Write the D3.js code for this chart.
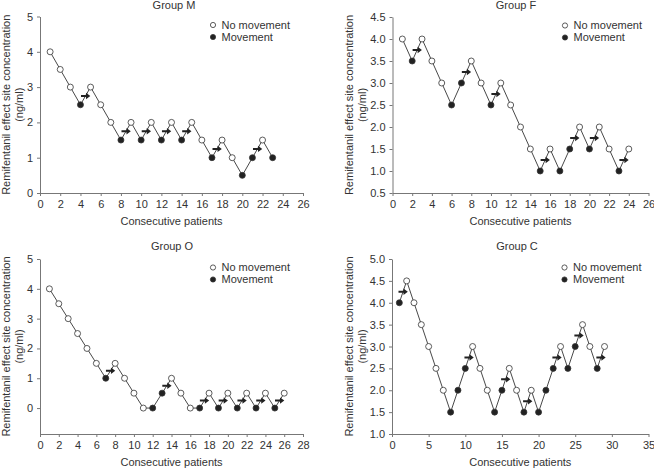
<!DOCTYPE html>
<html>
<head>
<meta charset="utf-8">
<script src="https://cdn.jsdelivr.net/npm/d3@7"></script>
<style>
  html, body { margin: 0; padding: 0; background: #fff; }
  svg { display: block; font-family: 'Liberation Sans', Arial, sans-serif; }
  .axis text { fill: #333; font-size: 11px; }
  .axis line, .axis path { stroke: #777; }
</style>
</head>
<body>
<div id="chart"></div>
<script>
// concentration (ng/ml) per consecutive patient, and whether the patient moved (1) or not (0)
const concM = [4, 3.5, 3, 2.5, 3, 2.5, 2, 1.5, 2, 1.5, 2, 1.5, 2, 1.5, 2, 1.5, 1, 1.5, 1, 0.5, 1, 1.5, 1];
const moveM = [0, 0, 0, 1, 0, 0, 0, 1, 0, 1, 0, 1, 0, 1, 0, 0, 1, 0, 0, 1, 1, 0, 1];

const concF = [4, 3.5, 4, 3.5, 3, 2.5, 3, 3.5, 3, 2.5, 3, 2.5, 2, 1.5, 1, 1.5, 1, 1.5, 2, 1.5, 2, 1.5, 1, 1.5];
const moveF = [0, 1, 0, 0, 0, 1, 1, 0, 0, 1, 0, 0, 0, 0, 1, 0, 1, 1, 0, 1, 0, 0, 1, 0];

const concO = [4, 3.5, 3, 2.5, 2, 1.5, 1, 1.5, 1, 0.5, 0, 0, 0.5, 1, 0.5, 0, 0, 0.5, 0, 0.5, 0, 0.5, 0, 0.5, 0, 0.5];
const moveO = [0, 0, 0, 0, 0, 0, 1, 0, 0, 0, 0, 1, 1, 0, 0, 0, 1, 0, 1, 0, 1, 0, 1, 0, 1, 0];

const concC = [4, 4.5, 4, 3.5, 3, 2.5, 2, 1.5, 2, 2.5, 3, 2.5, 2, 1.5, 2, 2.5, 2, 1.5, 2, 1.5, 2, 2.5, 3, 2.5, 3, 3.5, 3, 2.5, 3];
const moveC = [1, 0, 0, 0, 0, 0, 0, 1, 1, 1, 0, 0, 0, 1, 1, 0, 0, 1, 0, 1, 1, 1, 0, 1, 1, 0, 0, 1, 0];

const ticksM = { x: d3.range(0, 27, 2), y: [0, 1, 2, 3, 4, 5] };
const ticksF = { x: d3.range(0, 27, 2), y: d3.range(0.5, 4.51, 0.5) };
const ticksO = { x: d3.range(0, 29, 2), y: [0, 1, 2, 3, 4, 5] };
const ticksC = { x: d3.range(0, 36, 5), y: d3.range(1, 5.01, 0.5) };

const width = 654;
const height = 469;

const svg = d3
  .select('#chart')
  .append('svg')
  .attr('width', width)
  .attr('height', height);

const panels = [
  { title: 'Group M', conc: concM, move: moveM, ticks: ticksM, xMax: 26, yDom: [0, 5], fmt: d3.format('d'),
    left: 40, right: 303, top: 16.5, bottom: 193, titleX: 174, titleY: 9, ylab: [6, 19] },
  { title: 'Group F', conc: concF, move: moveF, ticks: ticksF, xMax: 26, yDom: [0.5, 4.5], fmt: d3.format('.1f'),
    left: 392.5, right: 648.5, top: 17, bottom: 193, titleX: 516, titleY: 9, ylab: [349, 362] },
  { title: 'Group O', conc: concO, move: moveO, ticks: ticksO, xMax: 28, yDom: [-0.87, 5], fmt: d3.format('d'),
    left: 40, right: 303, top: 259, bottom: 434, titleX: 172, titleY: 250, ylab: [6, 19] },
  { title: 'Group C', conc: concC, move: moveC, ticks: ticksC, xMax: 35, yDom: [1, 5], fmt: d3.format('.1f'),
    left: 392, right: 648.5, top: 259, bottom: 434, titleX: 517, titleY: 250, ylab: [349, 362] },
];

panels.forEach((p) => {
  const g = svg.append('g');
  const x = d3.scaleLinear().domain([0, p.xMax]).range([p.left, p.right]);
  const y = d3.scaleLinear().domain(p.yDom).range([p.bottom, p.top]);
  const pts = p.conc.map((v, i) => ({ n: i + 1, v, m: p.move[i] }));

  g.append('g')
    .attr('class', 'axis')
    .attr('transform', `translate(0, ${p.bottom})`)
    .call(d3.axisBottom(x).tickValues(p.ticks.x).tickSize(3).tickPadding(4).tickSizeOuter(0).tickFormat(d3.format('d')));

  g.append('g')
    .attr('class', 'axis')
    .attr('transform', `translate(${p.left}, 0)`)
    .call(d3.axisLeft(y).tickValues(p.ticks.y).tickSize(3).tickPadding(4).tickSizeOuter(0).tickFormat(p.fmt));

  g.append('text')
    .attr('x', p.titleX)
    .attr('y', p.titleY)
    .attr('text-anchor', 'middle')
    .style('font-size', '11px')
    .style('fill', '#333')
    .text(p.title);

  g.append('text')
    .attr('x', (p.left + p.right) / 2)
    .attr('y', p.bottom + 32)
    .attr('text-anchor', 'middle')
    .style('font-size', '11px')
    .style('fill', '#333')
    .text('Consecutive patients');

  const cy = (p.top + p.bottom) / 2;
  ['Remifentanil effect site concentration', '(ng/ml)'].forEach((t, i) => {
    g.append('text')
      .attr('transform', `translate(${p.ylab[i]}, ${cy}) rotate(-90)`)
      .attr('text-anchor', 'middle')
      .attr('dy', '0.35em')
      .style('font-size', '11px')
      .style('fill', '#333')
      .text(t);
  });

  g.append('path')
    .datum(pts)
    .attr('fill', 'none')
    .attr('stroke', '#333')
    .attr('stroke-width', 0.9)
    .attr('d', d3.line().x((d) => x(d.n)).y((d) => y(d.v)));

  // arrows between a movement and the following no-movement patient
  const pairs = pts.slice(0, -1).map((d, i) => [d, pts[i + 1]]).filter(([a, b]) => a.m === 1 && b.m === 0);
  g.selectAll('.arrow')
    .data(pairs)
    .enter()
    .append('path')
    .attr('class', 'arrow')
    .attr('transform', ([a, b]) => `translate(${(x(a.n) + x(b.n)) / 2}, ${(y(a.v) + y(b.v)) / 2})`)
    .attr('d', 'M-4.5,-1L0.5,-1L0.5,-3.2L4.8,0L0.5,3.2L0.5,1L-4.5,1Z')
    .attr('fill', '#222');

  g.selectAll('.pt')
    .data(pts)
    .enter()
    .append('circle')
    .attr('class', 'pt')
    .attr('cx', (d) => x(d.n))
    .attr('cy', (d) => y(d.v))
    .attr('r', 3)
    .attr('fill', (d) => (d.m ? '#222' : '#fff'))
    .attr('stroke', '#333')
    .attr('stroke-width', 0.8);

  const lx = p.left + (p.left < 100 ? 173 : 172.5);
  const ly = p.top + 8.5;
  [['No movement', '#fff'], ['Movement', '#222']].forEach(([t, f], i) => {
    g.append('circle')
      .attr('cx', lx)
      .attr('cy', ly + i * 12)
      .attr('r', 2.6)
      .attr('fill', f)
      .attr('stroke', '#333')
      .attr('stroke-width', 0.8);
    g.append('text')
      .attr('x', lx + 8.5)
      .attr('y', ly + i * 12)
      .attr('dy', '0.35em')
      .style('font-size', '11px')
      .style('fill', '#333')
      .text(t);
  });
});
</script>
</body>
</html>
